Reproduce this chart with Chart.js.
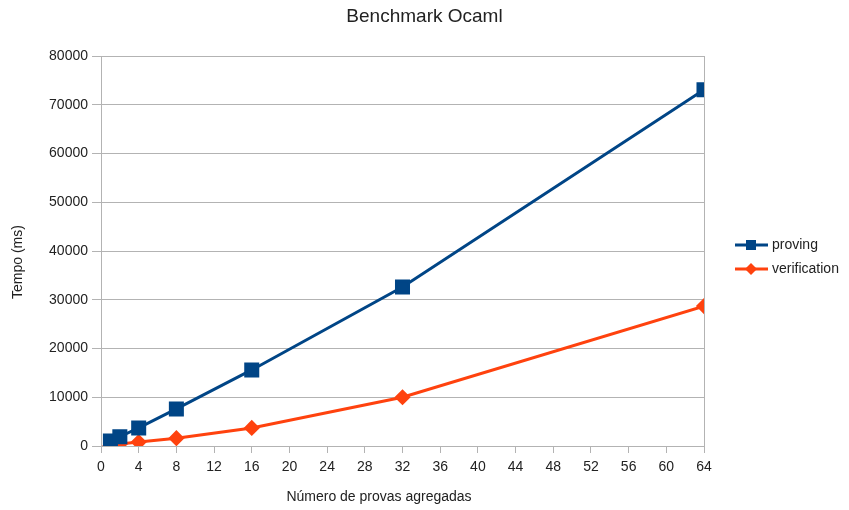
<!DOCTYPE html>
<html>
<head>
<meta charset="utf-8">
<script src="https://cdn.jsdelivr.net/npm/chart.js@4/dist/chart.umd.min.js"></script>
<style>
  html, body { margin: 0; padding: 0; background: #fff; }
  #wrap { width: 849px; height: 510px; }
</style>
</head>
<body>
<div id="wrap"><canvas id="chart" width="849" height="510"></canvas></div>
<script>
// values
const provas = [1, 2, 4, 8, 16, 32, 64];
const proving = [1000, 1900, 3700, 7600, 15600, 32600, 73100];
const verification = [100, 400, 800, 1600, 3700, 10000, 28700];

const blue = "#004586";
const orange = "#ff420e";
const font = "'Liberation Sans', Arial, sans-serif";
const textColor = "#222";

// titles placed like the office export, legend with line + marker on the right
const officeBits = {
  id: "officeBits",
  afterDraw(chart) {
    const ctx = chart.ctx;
    ctx.save();
    ctx.fillStyle = textColor;
    ctx.textAlign = "center";
    ctx.textBaseline = "middle";
    ctx.font = "19px " + font;
    ctx.fillText("Benchmark Ocaml", chart.width / 2, 17);
    ctx.font = "14px " + font;
    ctx.fillText("Número de provas agregadas", 379, 497);
    ctx.translate(18, 262);
    ctx.rotate(-Math.PI / 2);
    ctx.fillText("Tempo (ms)", 0, 0);
    ctx.restore();

    const x0 = chart.chartArea.right + 31;
    const ys = [245, 269];
    chart.data.datasets.forEach((ds, i) => {
      const y = ys[i];
      ctx.save();
      ctx.strokeStyle = ds.borderColor;
      ctx.lineWidth = 3;
      ctx.beginPath();
      ctx.moveTo(x0, y);
      ctx.lineTo(x0 + 33, y);
      ctx.stroke();
      ctx.fillStyle = ds.borderColor;
      ctx.beginPath();
      if (ds.pointStyle === "rect") {
        ctx.rect(x0 + 11, y - 5, 10, 10);
      } else {
        ctx.moveTo(x0 + 16, y - 6);
        ctx.lineTo(x0 + 22, y);
        ctx.lineTo(x0 + 16, y + 6);
        ctx.lineTo(x0 + 10, y);
        ctx.closePath();
      }
      ctx.fill();
      ctx.fillStyle = textColor;
      ctx.font = "14px " + font;
      ctx.textBaseline = "middle";
      ctx.fillText(ds.label, x0 + 37, y);
      ctx.restore();
    });
  }
};

new Chart(document.getElementById("chart").getContext("2d"), {
  type: "line",
  data: {
    datasets: [
      {
        label: "proving",
        data: provas.map((x, i) => ({ x: x, y: proving[i] })),
        borderColor: blue,
        backgroundColor: blue,
        borderWidth: 3,
        pointStyle: "rect",
        pointRadius: 8.5,
        pointHoverRadius: 8.5,
      },
      {
        label: "verification",
        data: provas.map((x, i) => ({ x: x, y: verification[i] })),
        borderColor: orange,
        backgroundColor: orange,
        borderWidth: 3,
        pointStyle: "rectRot",
        pointRadius: 6,
        pointHoverRadius: 6,
      },
    ],
  },
  options: {
    responsive: false,
    animation: false,
    layout: { padding: { left: 0, right: 145, top: 56, bottom: 0 } },
    plugins: {
      legend: { display: false },
      tooltip: { enabled: false },
      title: { display: false },
    },
    scales: {
      x: {
        type: "linear",
        min: 0,
        max: 64,
        ticks: { stepSize: 4, color: textColor, font: { family: font, size: 14 }, padding: 6 },
        grid: {
          color: (c) => (c.tick && c.tick.value === 64 ? "#b3b3b3" : "transparent"),
          tickColor: "#b3b3b3",
          tickLength: 7,
        },
        border: { color: "#b3b3b3" },
        afterFit(s) { s.height = 64; },
      },
      y: {
        min: 0,
        max: 80000,
        ticks: {
          stepSize: 10000,
          color: textColor,
          font: { family: font, size: 14 },
          padding: 4,
          callback: (v) => String(v),
        },
        grid: { color: "#b3b3b3", tickColor: "#b3b3b3", tickLength: 9 },
        border: { color: "#b3b3b3" },
        afterFit(s) { s.width = 101; },
      },
    },
  },
  plugins: [officeBits],
});
</script>
</body>
</html>
